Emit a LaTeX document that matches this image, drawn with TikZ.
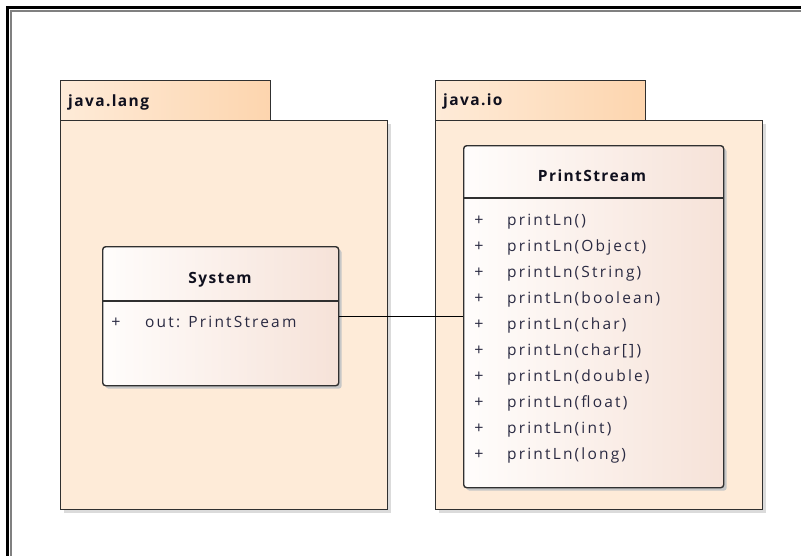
\documentclass[tikz,border=0pt]{standalone}
\usepackage{fontspec}
\setmainfont{Open Sans}
\usetikzlibrary{shadows}
\definecolor{pkgfill}{HTML}{FEEBD8}
\definecolor{tabR}{HTML}{FDD5AE}
\definecolor{clsL}{HTML}{FFFDFC}
\definecolor{clsR}{HTML}{F6E2D8}
\definecolor{txt}{HTML}{2A2A42}
\definecolor{ttl}{HTML}{10101E}
\definecolor{edge}{HTML}{303030}
\tikzset{
  pkgbody/.style={draw=edge, line width=1.4pt, fill=pkgfill, anchor=north west, inner sep=0pt,
    drop shadow={shadow xshift=3pt, shadow yshift=-3pt, fill=black!14, opacity=1}},
  pkgtab/.style={draw=edge, line width=1.4pt, left color=pkgfill, right color=tabR, anchor=north west, inner sep=0pt},
  classbox/.style={draw=edge, line width=1.4pt, rounded corners=3pt, left color=clsL, right color=clsR,
    anchor=north west, inner sep=0pt,
    drop shadow={shadow xshift=3pt, shadow yshift=-3pt, fill=black!22, opacity=1}},
  ttltext/.style={font=\fontsize{15.5}{18}\selectfont\bfseries\addfontfeature{LetterSpace=9}, text=ttl, inner sep=0pt},
  optext/.style={font=\fontsize{15.5}{18}\selectfont\addfontfeature{LetterSpace=14}, text=txt, inner sep=0pt, anchor=base west},
  plus/.style={font=\fontsize{16}{18}\selectfont, text=txt, inner sep=0pt, anchor=base},
  divider/.style={draw=edge, line width=1.4pt},
  conn/.style={draw=black, line width=1pt}
}
\begin{document}
\begin{tikzpicture}[x=1pt,y=-1pt]
\useasboundingbox (0,0) rectangle (801,555);
\fill[white] (0,0) rectangle (801,555);
% outer frame
\draw[black, line width=2.8pt] (7.4,556) -- (7.4,7.4) -- (802,7.4);
\draw[black!50, line width=1.8pt] (11,556) -- (11,11) -- (802,11);

% package java.lang
\node[pkgbody, minimum width=327pt, minimum height=389pt] (langbody) at (60,120) {};
\node[pkgtab, minimum width=210pt, minimum height=40pt] (langtab) at (60,80) {};
\node[ttltext, anchor=base west] (langlabel) at (68,106.5) {java.lang};

% package java.io
\node[pkgbody, minimum width=327pt, minimum height=389pt] (iobody) at (435,120) {};
\node[pkgtab, minimum width=210pt, minimum height=40pt] (iotab) at (435,80) {};
\node[ttltext, anchor=base west] (iolabel) at (443,105) {java.io};

% class System
\node[classbox, minimum width=236pt, minimum height=139pt] (system) at (102,246) {};
\node[ttltext, anchor=base] (systemname) at (220,283) {System};
\draw[divider] (system.west |- 0,301) -- (system.east |- 0,301);
\node[plus] (sysplus) at (116,327) {+};
\node[optext] (sysattr) at (145,327) {out: PrintStream};

% class PrintStream
\node[classbox, minimum width=260pt, minimum height=342pt] (ps) at (463,145) {};
\node[ttltext, anchor=base] (psname) at (592,181.5) {PrintStream};
\draw[divider] (ps.west |- 0,198) -- (ps.east |- 0,198);
\foreach \t [count=\i from 0] in {printLn(), printLn(Object), printLn(String), printLn(boolean),
  printLn(char), printLn(char[]), printLn(double), printLn(float), printLn(int), printLn(long)} {
  \node[plus] (psplus\i) at (479,225+26.1*\i) {+};
  \node[optext] (psop\i) at (507,225+26.1*\i) {\t};
}

% association
\draw[conn] (system.east) -- (ps.west |- system.east);
\end{tikzpicture}
\end{document}
